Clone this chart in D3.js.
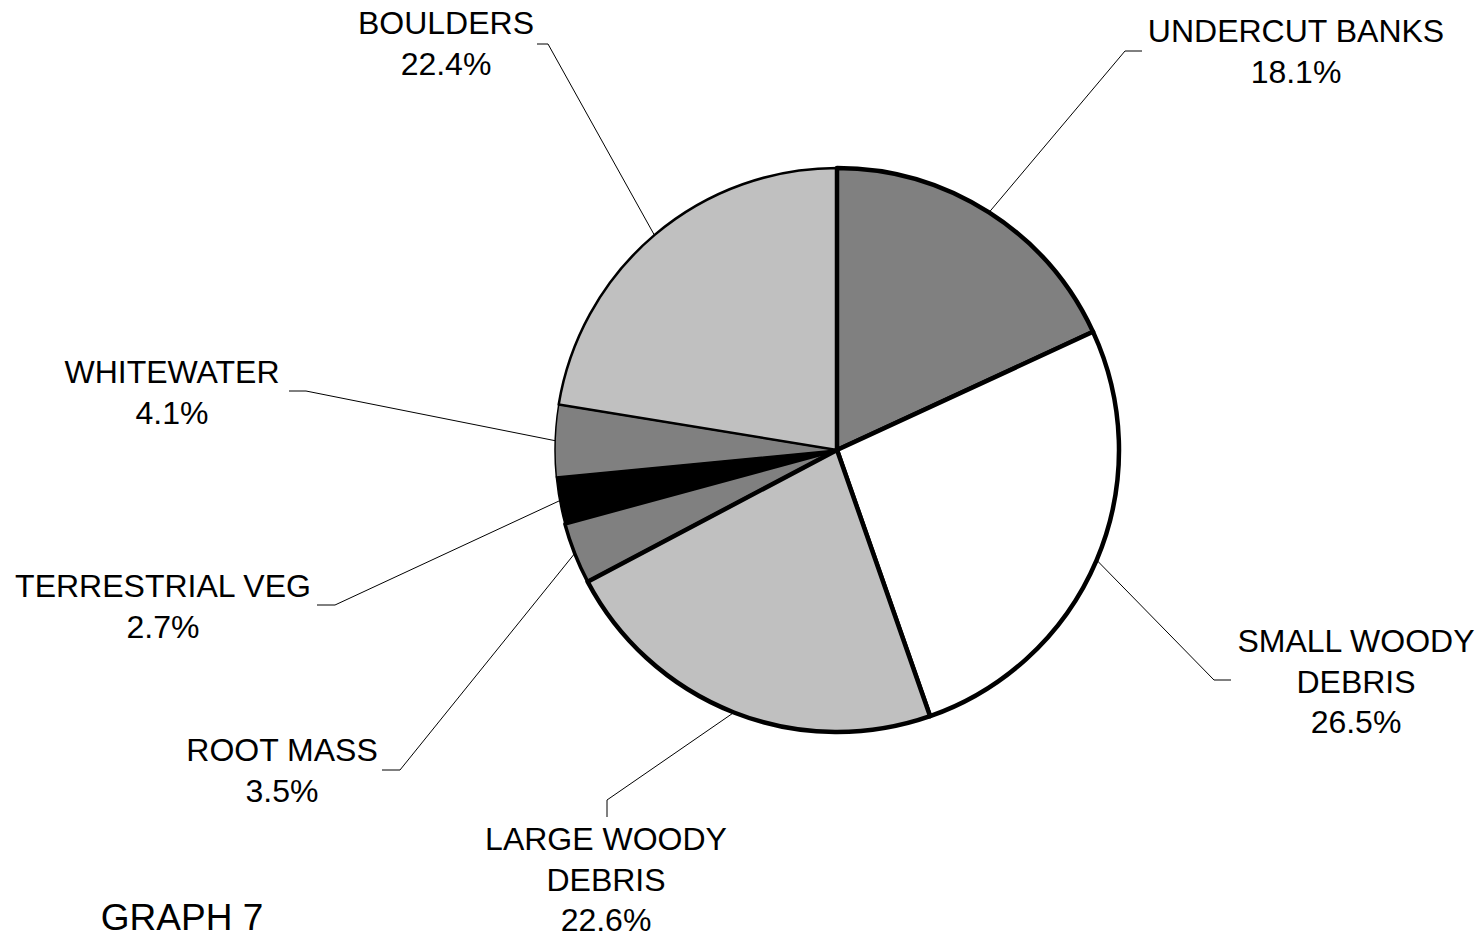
<!DOCTYPE html>
<html>
<head>
<meta charset="utf-8">
<title>Graph 7 – Habitat Cover Types</title>
<script src="https://cdn.jsdelivr.net/npm/d3@7"></script>
<style>
  html, body { margin: 0; padding: 0; background: #ffffff; }
  svg { display: block; }
  text { font-family: "Liberation Sans", Arial, sans-serif; fill: #000; }
</style>
</head>
<body>
<svg id="chart" width="1481" height="939"></svg>
<script>
// Cover types, clockwise from 12 o'clock, and their share of total cover (%)
const categories = [
  "UNDERCUT BANKS",
  "SMALL WOODY DEBRIS",
  "LARGE WOODY DEBRIS",
  "ROOT MASS",
  "TERRESTRIAL VEG",
  "WHITEWATER",
  "BOULDERS"
];
const percentages = [18.1, 26.5, 22.6, 3.5, 2.7, 4.1, 22.4];

// Label text lines for each category
const labelLines = {
  "UNDERCUT BANKS": ["UNDERCUT BANKS"],
  "SMALL WOODY DEBRIS": ["SMALL WOODY", "DEBRIS"],
  "LARGE WOODY DEBRIS": ["LARGE WOODY", "DEBRIS"],
  "ROOT MASS": ["ROOT MASS"],
  "TERRESTRIAL VEG": ["TERRESTRIAL VEG"],
  "WHITEWATER": ["WHITEWATER"],
  "BOULDERS": ["BOULDERS"]
};

const chartTitle = "GRAPH 7";

// ---- styling & layout ----
const fills = {
  "UNDERCUT BANKS": "#808080",
  "SMALL WOODY DEBRIS": "#ffffff",
  "LARGE WOODY DEBRIS": "#c0c0c0",
  "ROOT MASS": "#808080",
  "TERRESTRIAL VEG": "#000000",
  "WHITEWATER": "#808080",
  "BOULDERS": "#c0c0c0"
};
const strokeWidths = {
  "UNDERCUT BANKS": 4.5,
  "SMALL WOODY DEBRIS": 4.5,
  "LARGE WOODY DEBRIS": 4.5,
  "ROOT MASS": 3.5,
  "TERRESTRIAL VEG": 1.5,
  "WHITEWATER": 1.5,
  "BOULDERS": 2.5
};
// label block centre x, first baseline y, leader elbow and leader end
const labelLayout = {
  "UNDERCUT BANKS":     { x: 1296, y: 42,  elbow: [1125, 51],  end: [1142, 51] },
  "SMALL WOODY DEBRIS": { x: 1356, y: 652, elbow: [1214, 680], end: [1231, 680] },
  "LARGE WOODY DEBRIS": { x: 606,  y: 850, elbow: [607, 800],  end: [607, 817] },
  "ROOT MASS":          { x: 282,  y: 761, elbow: [400, 770],  end: [382, 770] },
  "TERRESTRIAL VEG":    { x: 163,  y: 597, elbow: [335, 605],  end: [317, 605] },
  "WHITEWATER":         { x: 172,  y: 383, elbow: [306, 391],  end: [289, 391] },
  "BOULDERS":           { x: 446,  y: 34,  elbow: [548, 44],   end: [537, 44] }
};
const cx = 837, cy = 450, radius = 282;
const fontSize = 32, lineHeight = 40.5;

const svg = d3.select("#chart");
const data = categories.map((c, i) => ({ name: c, value: percentages[i] }));

const pie = d3.pie().sort(null).value(d => d.value);
const arcs = pie(data);
const arc = d3.arc().innerRadius(0).outerRadius(radius);
const rimArc = d3.arc().innerRadius(radius).outerRadius(radius);

const g = svg.append("g").attr("transform", `translate(${cx},${cy})`);

// thinner-outlined slices first so heavier outlines sit on top
const drawOrder = arcs.slice().sort((a, b) =>
  strokeWidths[a.data.name] - strokeWidths[b.data.name]);

g.selectAll("path.slice")
  .data(drawOrder)
  .join("path")
  .attr("class", "slice")
  .attr("d", arc)
  .attr("fill", d => fills[d.data.name])
  .attr("stroke", "#000")
  .attr("stroke-width", d => strokeWidths[d.data.name])
  .attr("stroke-linejoin", "round");

// leader lines: rim point at slice mid-angle -> elbow -> short horizontal/vertical tail
svg.selectAll("polyline.leader")
  .data(arcs)
  .join("polyline")
  .attr("class", "leader")
  .attr("fill", "none")
  .attr("stroke", "#000")
  .attr("stroke-width", 1)
  .attr("points", d => {
    const [px, py] = rimArc.centroid(d);
    const L = labelLayout[d.data.name];
    return [[cx + px, cy + py], L.elbow, L.end].map(p => p.join(",")).join(" ");
  });

// category labels with percentage on the last line
const labels = svg.selectAll("text.label")
  .data(arcs)
  .join("text")
  .attr("class", "label")
  .attr("text-anchor", "middle")
  .attr("font-size", fontSize)
  .attr("x", d => labelLayout[d.data.name].x)
  .attr("y", d => labelLayout[d.data.name].y);

labels.each(function(d) {
  const L = labelLayout[d.data.name];
  const lines = labelLines[d.data.name].concat([d.data.value.toFixed(1) + "%"]);
  d3.select(this).selectAll("tspan")
    .data(lines)
    .join("tspan")
    .attr("x", L.x)
    .attr("dy", (t, i) => i === 0 ? 0 : lineHeight)
    .text(t => t);
});

svg.append("text")
  .attr("x", 182)
  .attr("y", 930)
  .attr("text-anchor", "middle")
  .attr("font-size", 37)
  .text(chartTitle);
</script>
</body>
</html>
